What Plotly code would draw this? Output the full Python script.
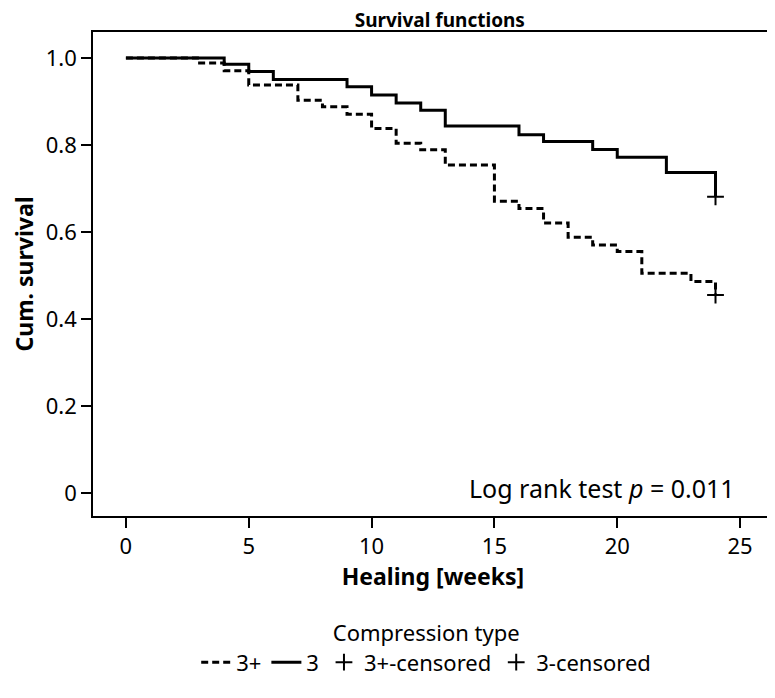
import plotly.graph_objects as go

# Kaplan-Meier step data (weeks, cumulative survival)
weeks_3plus = [0, 3, 4, 5, 7, 8, 9, 10, 11, 12, 13, 15, 16, 17, 18, 19, 20, 21, 23, 24]
surv_3plus = [1.0, 0.989, 0.971, 0.938, 0.903, 0.888, 0.871, 0.838, 0.804, 0.789,
              0.754, 0.671, 0.654, 0.621, 0.588, 0.570, 0.555, 0.505, 0.486, 0.455]

weeks_3 = [0, 4, 5, 6, 9, 10, 11, 12, 13, 16, 17, 19, 20, 22, 24]
surv_3 = [1.0, 0.986, 0.969, 0.951, 0.934, 0.915, 0.897, 0.880, 0.844, 0.824,
          0.808, 0.790, 0.772, 0.737, 0.681]

censor_3plus_x = [24]
censor_3plus_y = [0.455]
censor_3_x = [24]
censor_3_y = [0.681]

x_ticks = [0, 5, 10, 15, 20, 25]
y_ticks = [0, 0.2, 0.4, 0.6, 0.8, 1.0]
y_ticktext = ["0", "0.2", "0.4", "0.6", "0.8", "1.0"]

FONT = "Noto Sans"

fig = go.Figure()
fig.add_trace(go.Scatter(x=weeks_3plus, y=surv_3plus, mode="lines", line_shape="hv",
                         name="3+", line=dict(color="black", width=3, dash="7px,4px")))
fig.add_trace(go.Scatter(x=weeks_3, y=surv_3, mode="lines", line_shape="hv",
                         name="3", line=dict(color="black", width=3)))
fig.add_trace(go.Scatter(x=censor_3plus_x, y=censor_3plus_y, mode="markers",
                         name="3+-censored",
                         marker=dict(symbol="cross-thin", size=12, color="black",
                                     line=dict(width=2, color="black"))))
fig.add_trace(go.Scatter(x=censor_3_x, y=censor_3_y, mode="markers",
                         name="3-censored",
                         marker=dict(symbol="cross-thin", size=12, color="black",
                                     line=dict(width=2, color="black"))))

fig.add_annotation(text="Log rank test <i>p</i> = 0.011", xref="paper", yref="y",
                   x=0.947, y=0.012, xanchor="right", yanchor="middle",
                   showarrow=False, font=dict(family=FONT, size=25, color="black"))

fig.update_layout(
    width=775, height=698,
    margin=dict(l=85, r=10, t=24, b=190, autoexpand=False),
    paper_bgcolor="white", plot_bgcolor="white",
    font=dict(family=FONT, size=22, color="black"),
    title=dict(text="<b>Survival functions</b>", x=0.51, xref="paper", xanchor="center",
               y=0.9828, yref="container", yanchor="middle",
               font=dict(family=FONT, size=19, color="black")),
    xaxis=dict(range=[-1.34, 26.34], tickvals=x_ticks, ticks="outside", ticklen=10,
               tickwidth=1.5, tickcolor="black", showline=True, mirror=True,
               linecolor="black", linewidth=1.5, showgrid=False, zeroline=False,
               tickfont=dict(size=22), automargin=False,
               title=dict(text="<b>Healing [weeks]</b>", font=dict(size=23), standoff=2)),
    yaxis=dict(range=[-0.053, 1.06], tickvals=y_ticks, ticktext=y_ticktext,
               ticks="outside", ticklen=10, tickwidth=1.5, tickcolor="black",
               showline=True, mirror=True, linecolor="black", linewidth=1.5,
               showgrid=False, zeroline=False, tickfont=dict(size=22), automargin=False,
               title=dict(text="<b>Cum. survival</b>", font=dict(size=23), standoff=8)),
    legend=dict(orientation="h", x=0.49, xanchor="center", y=-0.2, yanchor="top",
                title=dict(text="Compression type", side="top center",
                           font=dict(size=22)),
                font=dict(size=22), itemwidth=30, tracegroupgap=0),
    showlegend=True,
)

fig.write_html("out.html")
